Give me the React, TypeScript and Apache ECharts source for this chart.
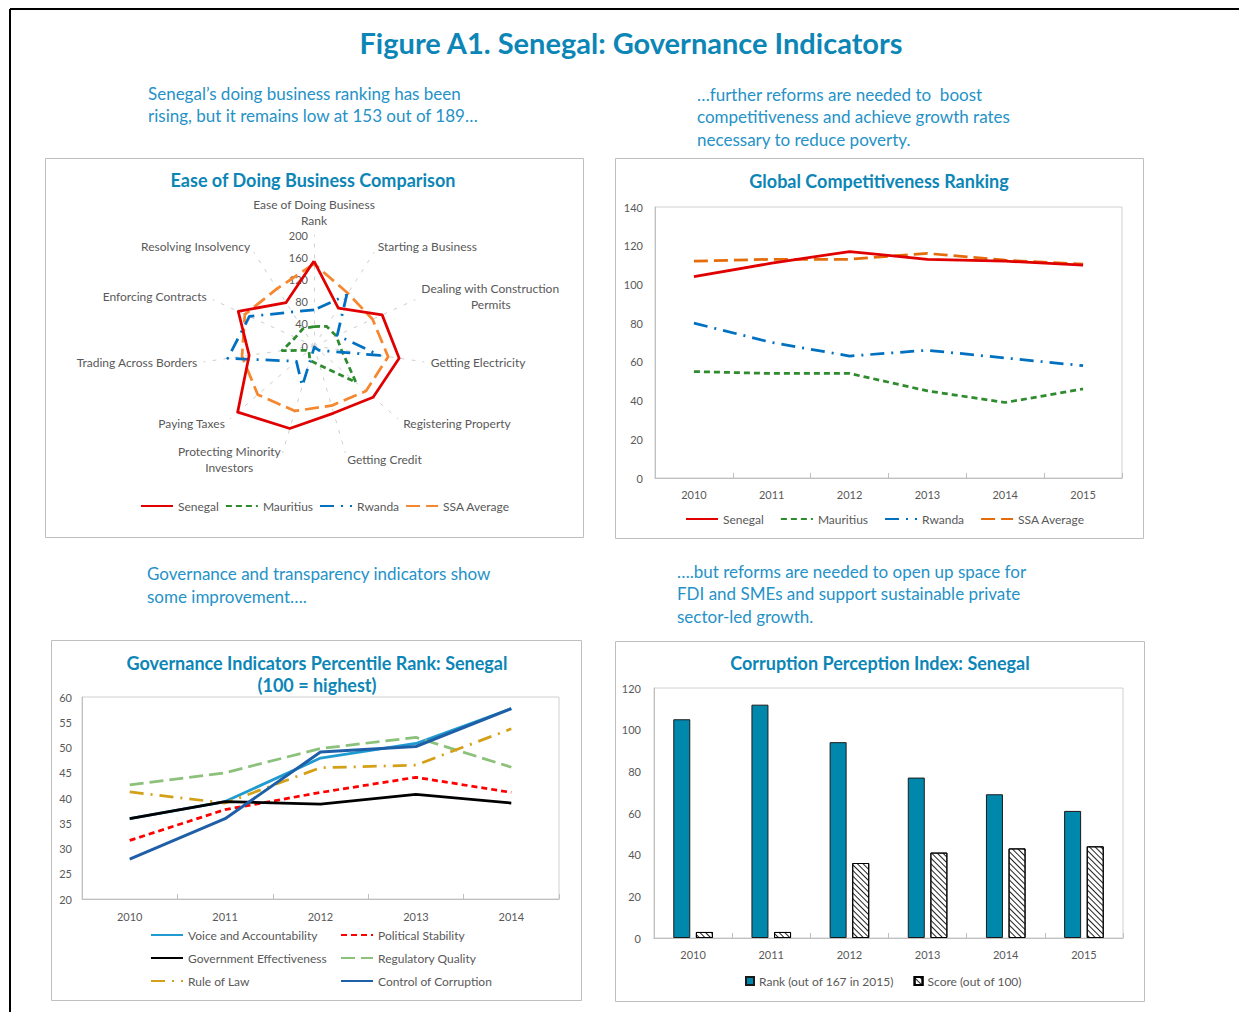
import React, { useEffect, useRef } from 'react';
import * as echarts from 'echarts';

const FONT = 'Lato, "Open Sans", sans-serif';
const TITLE_BLUE = '#0c86b6';
const TEXT_BLUE = '#2592c7';
const AXIS_GRAY = '#595959';
const BORDER_GRAY = '#bfbfbf';

// ---- Ease of Doing Business (radar) ----
const radarIndicators = [
  'Ease of Doing Business\nRank',
  'Starting a Business',
  'Dealing with Construction\nPermits',
  'Getting Electricity',
  'Registering Property',
  'Getting Credit',
  'Protecting Minority\nInvestors',
  'Paying Taxes',
  'Trading Across Borders',
  'Enforcing Contracts',
  'Resolving Insolvency',
];
const radarSenegal = [153, 81, 135, 155, 141, 126, 155, 182, 118, 150, 93];
const radarMauritius = [35, 42, 44, 50, 100, 36, 27, 12, 58, 37, 37];
const radarRwanda = [65, 109, 46, 120, 12, 2, 75, 42, 157, 128, 73];
const radarSSA = [148, 113, 116, 135, 124, 112, 122, 134, 131, 137, 123];
const radarMax = 200;

// ---- Global Competitiveness Ranking ----
const gciYears = ['2010', '2011', '2012', '2013', '2014', '2015'];
const gciSenegal = [104, 111, 117, 113, 112, 110];
const gciMauritius = [55, 54, 54, 45, 39, 46];
const gciRwanda = [80, 70, 63, 66, 62, 58];
const gciSSA = [112, 113, 113, 116, 112.5, 110.5];

// ---- Governance Indicators Percentile Rank ----
const wgiYears = ['2010', '2011', '2012', '2013', '2014'];
const wgiVoice = [35.9, 39.3, 47.9, 50.8, 57.7];
const wgiPolitical = [31.6, 37.7, 41.1, 44.1, 41.1];
const wgiGovEff = [35.9, 39.3, 38.8, 40.7, 39.0];
const wgiRegQuality = [42.6, 45.0, 49.8, 52.0, 46.1];
const wgiRuleLaw = [41.2, 39.0, 46.0, 46.5, 53.7];
const wgiCorruption = [27.9, 35.9, 49.1, 50.2, 57.7];

// ---- Corruption Perception Index ----
const cpiYears = ['2010', '2011', '2012', '2013', '2014', '2015'];
const cpiRank = [105, 112, 94, 77, 69, 61];
const cpiScore = [2.9, 2.9, 36, 41, 43, 44];

// series styles
const S_RED = '#e00000';
const S_GREEN = '#2e8b2e';
const S_BLUE = '#0070c0';
const S_ORANGE_LIGHT = '#f7872e';
const S_ORANGE_DARK = '#e46c0a';
const DASH_SHORT = [6, 4];
const DASH_LONG = [14, 6];
const DASH_LONG_DOT = [14, 7, 2, 7];
const LW = 2.75;

function textEl(text: string, x: number, y: number, opts: any = {}) {
  return {
    type: 'text',
    x,
    y,
    silent: true,
    style: {
      text,
      fill: opts.fill || TEXT_BLUE,
      font: `${opts.bold ? 'bold ' : ''}${opts.size || 17}px ${FONT}`,
      textAlign: opts.align || 'left',
      textVerticalAlign: 'middle',
    },
  };
}

function rectEl(x: number, y: number, w: number, h: number) {
  return {
    type: 'rect',
    silent: true,
    shape: { x: x + 0.5, y: y + 0.5, width: w, height: h },
    style: { fill: 'none', stroke: BORDER_GRAY, lineWidth: 1 },
  };
}

function measure(text: string, size: number) {
  const c = document.createElement('canvas').getContext('2d');
  if (!c) return text.length * size * 0.5;
  c.font = `${size}px ${FONT}`;
  return c.measureText(text).width;
}

export default function App() {
  const ref = useRef<HTMLDivElement>(null);

  useEffect(() => {
    if (!ref.current) return;
    const chart = echarts.init(ref.current, null, { renderer: 'svg' });

    // ECharts lays radar indicators counter-clockwise; reorder to get clockwise order
    const order = [0, ...Array.from({ length: radarIndicators.length - 1 }, (_, i) => radarIndicators.length - 1 - i)];
    const reorder = (arr: number[]) => order.map((i) => arr[i]);

    const axisLabelStyle = { color: AXIS_GRAY, fontSize: 11, fontFamily: FONT };
    const legendText = { color: AXIS_GRAY, fontSize: 12, fontFamily: FONT };
    const NAME_SIZE = 12;

    const catAxis = (gridIndex: number, data: string[], margin: number) => ({
      type: 'category',
      gridIndex,
      data,
      boundaryGap: true,
      axisLine: { lineStyle: { color: BORDER_GRAY, width: 1 } },
      axisTick: { show: true, inside: true, length: 5, lineStyle: { color: BORDER_GRAY } },
      axisLabel: { ...axisLabelStyle, margin },
      splitLine: { show: false },
    });
    const valAxis = (gridIndex: number, min: number, max: number, interval: number, margin: number) => ({
      type: 'value',
      gridIndex,
      min,
      max,
      interval,
      axisLine: { show: true, lineStyle: { color: BORDER_GRAY, width: 1 } },
      axisTick: { show: false },
      axisLabel: { ...axisLabelStyle, margin },
      splitLine: { show: false },
    });

    const lineSeries = (name: string, data: number[], xi: number, color: string, type: any, width = LW) => ({
      type: 'line',
      name,
      data,
      xAxisIndex: xi,
      yAxisIndex: xi,
      color,
      symbol: 'none',
      lineStyle: { color, width, type },
      itemStyle: { color },
      emphasis: { disabled: true },
    });

    const radarItem = (name: string, values: number[], color: string, type: any, width = LW) => ({
      name,
      value: reorder(values),
      symbol: 'none',
      lineStyle: { color, width, type },
      itemStyle: { color },
      areaStyle: { opacity: 0 },
    });

    const lineLegendBase = {
      padding: 0,
      itemWidth: 32,
      itemHeight: 10,
      textStyle: legendText,
      selectedMode: false,
      itemStyle: { opacity: 0 },
    };

    const nameRich: any = {
      a: { color: AXIS_GRAY, fontSize: NAME_SIZE, fontFamily: FONT, lineHeight: 16 },
    };
    radarIndicators.forEach((n) => {
      const parts = n.split('\n');
      if (parts.length > 1) {
        nameRich[`b${parts[0].length}`] = {
          color: AXIS_GRAY,
          fontSize: NAME_SIZE,
          fontFamily: FONT,
          lineHeight: 16,
          width: Math.ceil(measure(parts[0], NAME_SIZE)),
          align: 'center',
        };
      }
    });

    const option: any = {
      animation: false,
      textStyle: { fontFamily: FONT },
      graphic: [
        { type: 'line', silent: true, shape: { x1: 10, y1: 9, x2: 1239, y2: 9 }, style: { stroke: '#000', lineWidth: 2 } },
        { type: 'line', silent: true, shape: { x1: 10, y1: 9, x2: 10, y2: 1012 }, style: { stroke: '#000', lineWidth: 2 } },
        textEl('Figure A1. Senegal: Governance Indicators', 631, 42, { bold: true, size: 29, fill: TITLE_BLUE, align: 'center' }),
        textEl('Senegal\u2019s doing business ranking has been', 148, 93),
        textEl('rising, but it remains low at 153 out of 189\u2026', 148, 115),
        textEl('\u2026further reforms are needed to  boost', 697, 94),
        textEl('competitiveness and achieve growth rates', 697, 116),
        textEl('necessary to reduce poverty.', 697, 139),
        textEl('Governance and transparency indicators show', 147, 573),
        textEl('some improvement\u2026.', 147, 596),
        textEl('\u2026.but reforms are needed to open up space for', 677, 571),
        textEl('FDI and SMEs and support sustainable private', 677, 593),
        textEl('sector-led growth.', 677, 616),
        rectEl(45, 158, 538, 379),
        rectEl(615, 158, 528, 380),
        rectEl(51, 640, 530, 360),
        rectEl(615, 641, 529, 360),
        textEl('Ease of Doing Business Comparison', 313, 180, { bold: true, size: 18, fill: TITLE_BLUE, align: 'center' }),
        textEl('Global Competitiveness Ranking', 879, 181, { bold: true, size: 18, fill: TITLE_BLUE, align: 'center' }),
        textEl('Governance Indicators Percentile Rank: Senegal', 317, 663, { bold: true, size: 18, fill: TITLE_BLUE, align: 'center' }),
        textEl('(100 = highest)', 317, 685, { bold: true, size: 18, fill: TITLE_BLUE, align: 'center' }),
        textEl('Corruption Perception Index: Senegal', 880, 663, { bold: true, size: 18, fill: TITLE_BLUE, align: 'center' }),
      ],
      radar: {
        center: [314, 346],
        radius: 111,
        startAngle: 90,
        splitNumber: 5,
        shape: 'polygon',
        nameGap: 7,
        axisName: {
          color: AXIS_GRAY,
          fontSize: NAME_SIZE,
          fontFamily: FONT,
          lineHeight: 16,
          formatter: (name: string) => {
            const parts = name.split('\n');
            if (parts.length < 2) return `{a|${name}}`;
            return `{a|${parts[0]}}\n{b${parts[0].length}|${parts[1]}}`;
          },
          rich: nameRich,
        },
        indicator: order.map((i, k) => ({
          name: radarIndicators[i],
          min: 0,
          max: radarMax,
          axisLabel: k === 0 ? { show: true } : { show: false },
        })),
        axisLine: { show: true, lineStyle: { color: '#cfcfcf', width: 1, type: [3, 8] } },
        splitLine: { show: false },
        splitArea: { show: false },
        axisTick: { show: false },
        axisLabel: { show: false, color: AXIS_GRAY, fontSize: 11, fontFamily: FONT, margin: 6 },
      },
      grid: [
        { left: 655, top: 207, width: 467, height: 271, show: true, borderColor: '#d0d0d0', borderWidth: 1 },
        { left: 82, top: 697, width: 477, height: 202, show: true, borderColor: '#d0d0d0', borderWidth: 1 },
        { left: 654, top: 688, width: 469, height: 250, show: true, borderColor: '#d0d0d0', borderWidth: 1 },
      ],
      xAxis: [catAxis(0, gciYears, 11), catAxis(1, wgiYears, 12), catAxis(2, cpiYears, 11)],
      yAxis: [valAxis(0, 0, 140, 20, 12), valAxis(1, 20, 60, 5, 10), valAxis(2, 0, 120, 20, 13)],
      legend: [
        {
          ...lineLegendBase,
          left: 140,
          top: 500,
          itemGap: 6,
          formatter: (n: string) => n.trim(),
          data: ['Senegal ', 'Mauritius ', 'Rwanda ', 'SSA Average '],
        },
        {
          ...lineLegendBase,
          left: 685,
          top: 513,
          itemGap: 16,
          data: ['Senegal', 'Mauritius', 'Rwanda', 'SSA Average'],
        },
        {
          ...lineLegendBase,
          left: 150,
          top: 929,
          orient: 'vertical',
          itemHeight: 14,
          itemGap: 11,
          data: ['Voice and Accountability', 'Government Effectiveness', 'Rule of Law'],
        },
        {
          ...lineLegendBase,
          left: 340,
          top: 929,
          orient: 'vertical',
          itemHeight: 14,
          itemGap: 11,
          data: ['Political Stability', 'Regulatory Quality', 'Control of Corruption'],
        },
        {
          padding: 0,
          left: 745,
          top: 975,
          itemWidth: 8,
          itemHeight: 8,
          itemGap: 20,
          icon: 'rect',
          textStyle: legendText,
          data: ['Rank (out of 167 in 2015)', 'Score (out of 100)'],
          selectedMode: false,
        },
      ],
      series: [
        {
          type: 'radar',
          name: 'Ease of Doing Business',
          silent: true,
          data: [
            radarItem('r-SSA', radarSSA, S_ORANGE_LIGHT, DASH_LONG),
            radarItem('r-Mauritius', radarMauritius, S_GREEN, DASH_SHORT),
            radarItem('r-Rwanda', radarRwanda, S_BLUE, DASH_LONG_DOT),
            radarItem('r-Senegal', radarSenegal, S_RED, 'solid'),
          ],
        },
        // legend carriers for the radar (no data drawn)
        lineSeries('Senegal ', [], 0, S_RED, 'solid'),
        lineSeries('Mauritius ', [], 0, S_GREEN, DASH_SHORT),
        lineSeries('Rwanda ', [], 0, S_BLUE, DASH_LONG_DOT),
        lineSeries('SSA Average ', [], 0, S_ORANGE_LIGHT, DASH_LONG),
        // Global Competitiveness
        lineSeries('SSA Average', gciSSA, 0, S_ORANGE_DARK, DASH_LONG),
        lineSeries('Mauritius', gciMauritius, 0, S_GREEN, DASH_SHORT),
        lineSeries('Rwanda', gciRwanda, 0, S_BLUE, DASH_LONG_DOT),
        lineSeries('Senegal', gciSenegal, 0, S_RED, 'solid'),
        // Governance indicators
        lineSeries('Voice and Accountability', wgiVoice, 1, '#1f9bd1', 'solid'),
        lineSeries('Political Stability', wgiPolitical, 1, '#ff0000', DASH_SHORT),
        lineSeries('Regulatory Quality', wgiRegQuality, 1, '#8cc17b', DASH_LONG),
        lineSeries('Rule of Law', wgiRuleLaw, 1, '#d4a017', DASH_LONG_DOT),
        lineSeries('Government Effectiveness', wgiGovEff, 1, '#000000', 'solid'),
        lineSeries('Control of Corruption', wgiCorruption, 1, '#1f5fa8', 'solid', 3),
        // CPI bars
        {
          type: 'bar',
          name: 'Rank (out of 167 in 2015)',
          xAxisIndex: 2,
          yAxisIndex: 2,
          data: cpiRank,
          barWidth: 17,
          barGap: '33%',
          itemStyle: { color: '#0088ac', borderColor: '#1a1a1a', borderWidth: 1 },
          emphasis: { disabled: true },
        },
        {
          type: 'bar',
          name: 'Score (out of 100)',
          xAxisIndex: 2,
          yAxisIndex: 2,
          data: cpiScore,
          barWidth: 17,
          barGap: '33%',
          itemStyle: {
            color: '#ffffff',
            borderColor: '#000000',
            borderWidth: 1,
            decal: {
              symbol: 'rect',
              symbolSize: 1,
              dashArrayX: [1, 0],
              dashArrayY: [1, 3],
              rotation: Math.PI / 4,
              color: '#222222',
            },
          },
          emphasis: { disabled: true },
        },
      ],
    };

    chart.setOption(option);
    return () => chart.dispose();
  }, []);

  return (
    <div
      ref={ref}
      style={{ position: 'absolute', left: 0, top: 0, width: 1239, height: 1012, background: '#ffffff' }}
    />
  );
}
